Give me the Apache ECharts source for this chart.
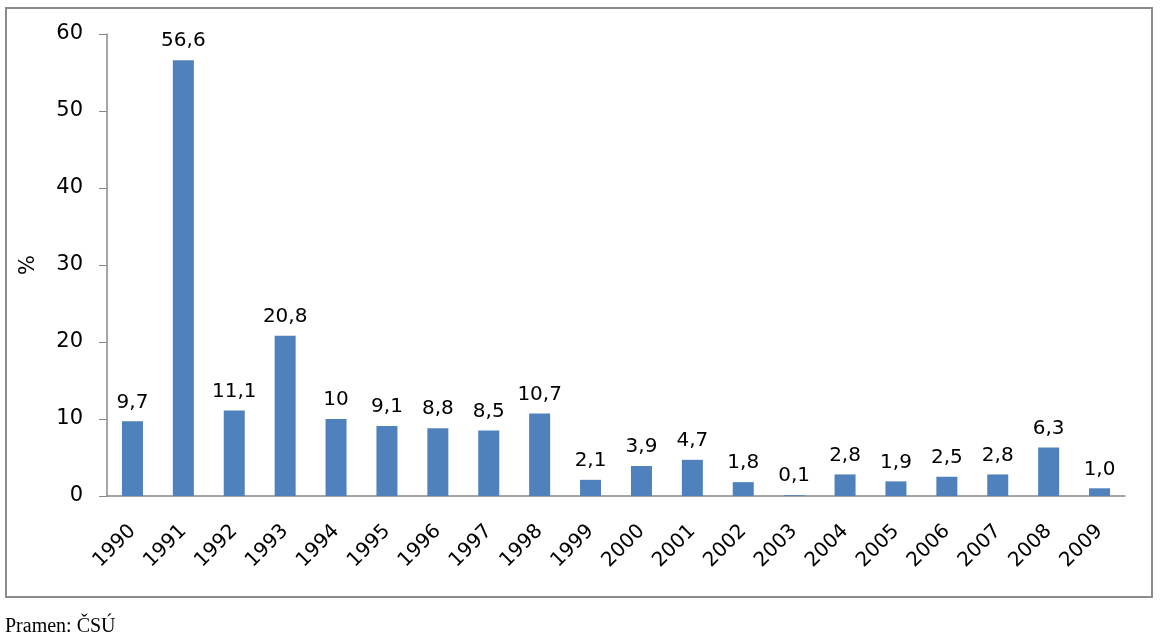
<!DOCTYPE html>
<html><head><meta charset="utf-8">
<script src="https://cdn.jsdelivr.net/npm/echarts@6/dist/echarts.min.js"></script>
<style>html,body{margin:0;padding:0;background:#fff}#c{width:1160px;height:642px}</style>
</head><body><div id="c"></div>
<script>
const years = ['1990','1991','1992','1993','1994','1995','1996','1997','1998','1999','2000','2001','2002','2003','2004','2005','2006','2007','2008','2009'];
const values = [9.7,56.6,11.1,20.8,10,9.1,8.8,8.5,10.7,2.1,3.9,4.7,1.8,0.1,2.8,1.9,2.5,2.8,6.3,1.0];
const valueLabels = ['9,7','56,6','11,1','20,8','10','9,1','8,8','8,5','10,7','2,1','3,9','4,7','1,8','0,1','2,8','1,9','2,5','2,8','6,3','1,0'];
const yTicks = [0,10,20,30,40,50,60];

const chart = echarts.init(document.getElementById('c'));
const font = 'DejaVu Sans';
chart.setOption({
  animation:false,
  backgroundColor:'#fff',
  grid:{left:107,top:34,right:35,bottom:146},
  xAxis:{type:'category',data:years,
    axisLine:{lineStyle:{color:'#888',width:1.5}},
    axisTick:{show:false},
    axisLabel:{rotate:45,color:'#000',fontFamily:font,fontSize:20,margin:32,interval:0}},
  yAxis:{type:'value',min:0,max:60,interval:10,
    name:'%',nameLocation:'middle',nameGap:68,nameRotate:90,
    nameTextStyle:{color:'#000',fontFamily:font,fontSize:21},
    axisLine:{show:true,lineStyle:{color:'#888',width:1.5}},
    axisTick:{show:true,length:8,lineStyle:{color:'#888'}},
    splitLine:{show:false},
    axisLabel:{color:'#000',fontFamily:font,fontSize:21,margin:24,
      formatter:v=>yTicks.includes(v)?String(v):''}},
  series:[{type:'bar',data:values,barWidth:21,
    itemStyle:{color:'#4F81BD'},
    label:{show:true,position:'top',distance:9,color:'#000',fontFamily:font,fontSize:20,
      formatter:p=>valueLabels[p.dataIndex]}}],
  graphic:[
    {type:'rect',shape:{x:6,y:8,width:1146,height:589},style:{fill:'none',stroke:'#8c8c8c',lineWidth:2},silent:true,z:-1},
    {type:'text',left:5,top:617,style:{text:'Pramen: ČSÚ',font:'20px "Liberation Serif", "DejaVu Serif", serif',fill:'#000'}}
  ]
});
</script></body></html>
